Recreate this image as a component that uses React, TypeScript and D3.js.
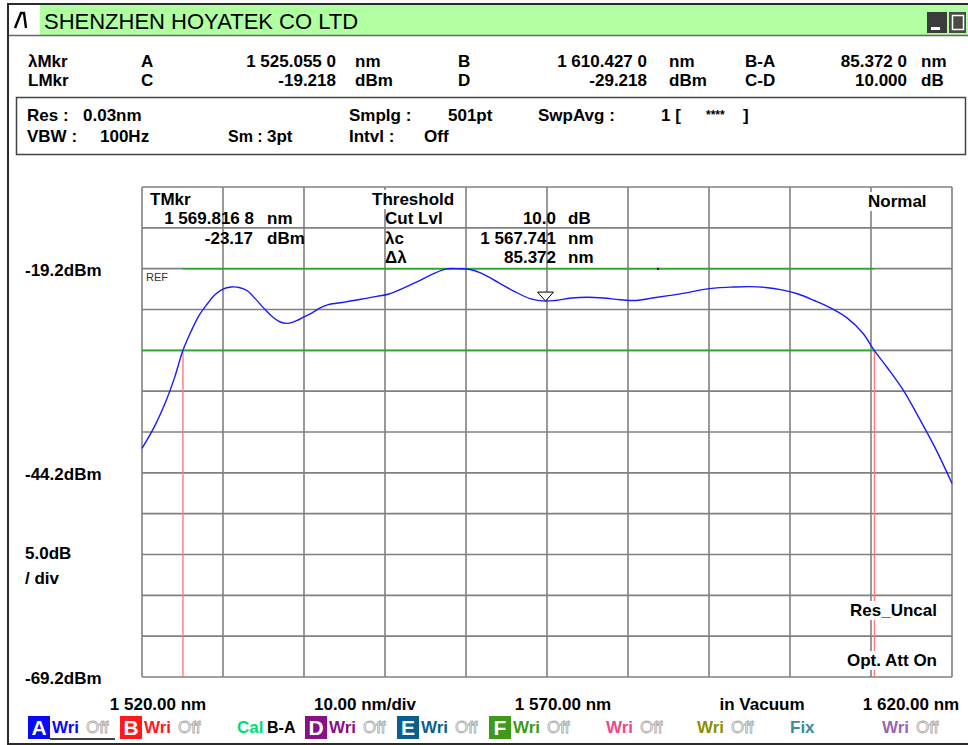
import * as d3 from "d3"
import { useEffect, useRef } from "react"

const W = 968
const H = 745

// measured spectrum trace
const traceNm = [
  1520, 1521.5, 1523, 1524, 1525.055, 1526, 1527, 1528, 1529, 1530, 1531, 1532,
  1533, 1534, 1535, 1536, 1537, 1538, 1539, 1540, 1541, 1542, 1543, 1545, 1547,
  1549, 1550.5, 1552, 1554, 1556, 1557.5, 1559, 1560.5, 1562, 1564, 1566, 1568,
  1569.8, 1571, 1573, 1575, 1577, 1579, 1581, 1583, 1585, 1587, 1589, 1591, 1593,
  1595, 1597, 1599, 1601, 1603, 1605, 1607, 1609, 1610.4, 1612, 1614, 1616, 1618,
  1620,
]
const traceDbm = [
  -41.2, -38.6, -35.3, -32.6, -29.2, -27.0, -25.0, -23.6, -22.4, -21.7, -21.45,
  -21.5, -21.9, -22.9, -24.0, -25.0, -25.7, -25.9, -25.6, -25.1, -24.6, -24.0,
  -23.6, -23.3, -22.95, -22.6, -22.3, -21.7, -20.8, -19.8, -19.25, -19.2, -19.3,
  -19.8, -20.9, -22.0, -22.9, -23.17, -23.1, -22.8, -22.7, -22.8, -23.0, -23.1,
  -22.8, -22.5, -22.2, -21.8, -21.55, -21.45, -21.4, -21.5, -21.8, -22.3, -23.1,
  -24.0, -25.2, -27.1, -29.2, -31.3, -34.1, -37.6, -41.3, -45.5,
]

const gridNm = [1520, 1530, 1540, 1550, 1560, 1570, 1580, 1590, 1600, 1610, 1620]
const gridDb = [-69.2, -64.2, -59.2, -54.2, -49.2, -44.2, -39.2, -34.2, -29.2, -24.2, -19.2, -14.2, -9.2]

const markerA = 1525.055
const markerB = 1610.427
const levelC = -19.218
const levelD = -29.218
const tMkrNm = 1569.8168
const tMkrDbm = -23.17
const peakDotNm = 1583.7

const headerRow1 = ["λMkr", "A", "1 525.055 0", "nm", "B", "1 610.427 0", "nm", "B-A", "85.372 0", "nm"]
const headerRow2 = ["LMkr", "C", "-19.218", "dBm", "D", "-29.218", "dBm", "C-D", "10.000", "dB"]
const headerX = [28, 141, 336, 355, 458, 647, 669, 745, 907, 921]
const headerAnchor = ["start", "start", "end", "start", "start", "end", "start", "start", "end", "start"]

const levelLabels = ["-19.2dBm", "-44.2dBm", "-69.2dBm"]
const levelValues = [-19.2, -44.2, -69.2]

const axisLabels = ["1 520.00 nm", "10.00 nm/div", "1 570.00 nm", "in Vacuum", "1 620.00 nm"]
const axisLabelX = [158, 365, 563, 762, 911]

const legendKeys = ["A", "B", "", "D", "E", "F", "", "", "", ""]
const legendLabels = ["Wri", "Wri", "Cal", "Wri", "Wri", "Wri", "Wri", "Wri", "Fix", "Wri"]
const legendColors = ["#0a0af5", "#ff1a1a", "#00e070", "#8a108a", "#0a5f90", "#3f9a18", "#ec4a88", "#8f8f00", "#3f8a9c", "#9a66b4"]
const legendOff = [true, true, false, true, true, true, true, true, false, true]
const legendX = [28, 120, 237, 305, 397, 489, 606, 697, 790, 882]

const FONT = "'Liberation Sans', Arial, Helvetica, sans-serif"

type Opt = { anchor?: string; size?: number; weight?: string; fill?: string; bg?: boolean; stroke?: string }

export default function App() {
  const svgRef = useRef<SVGSVGElement | null>(null)

  useEffect(() => {
    if (!svgRef.current) return
    const svg = d3.select(svgRef.current)
    svg.selectAll("*").remove()

    const put = (g: any, x: number, y: number, s: string, o: Opt = {}) => {
      const t = g
        .append("text")
        .attr("x", x)
        .attr("y", y)
        .attr("text-anchor", o.anchor || "start")
        .attr("font-size", o.size || 17)
        .attr("font-weight", o.weight || "bold")
        .attr("fill", o.fill || "#000")
        .text(s)
      if (o.stroke) t.attr("stroke", o.stroke).attr("stroke-width", 0.8)
      if (o.bg) {
        const b = (t.node() as SVGTextElement).getBBox()
        g.insert("rect", () => t.node())
          .attr("x", b.x - 2)
          .attr("y", b.y)
          .attr("width", b.width + 4)
          .attr("height", b.height)
          .attr("fill", "#fff")
      }
      return t
    }

    // window frame
    svg.append("rect").attr("x", 0).attr("y", 0).attr("width", W).attr("height", H).attr("fill", "#fff")
    svg
      .append("rect")
      .attr("x", 8)
      .attr("y", 4)
      .attr("width", 961)
      .attr("height", 740)
      .attr("fill", "none")
      .attr("stroke", "#2a2a2a")
      .attr("stroke-width", 2)

    // title bar
    svg.append("rect").attr("x", 9).attr("y", 5).attr("width", 959).attr("height", 30).attr("fill", "#b0ffa0")
    svg.append("rect").attr("x", 9).attr("y", 5).attr("width", 31).attr("height", 30).attr("fill", "#fff")
    svg.append("line").attr("x1", 9).attr("x2", 968).attr("y1", 35.5).attr("y2", 35.5).attr("stroke", "#666").attr("stroke-width", 1.5)
    svg
      .append("path")
      .attr("d", "M15,28 L21,13 L24,13 L26,28")
      .attr("fill", "none")
      .attr("stroke", "#000")
      .attr("stroke-width", 2.4)
    put(svg, 44, 29, "SHENZHEN HOYATEK CO LTD", { size: 22, weight: "normal" })

    // window buttons
    svg.append("rect").attr("x", 927).attr("y", 12).attr("width", 20).attr("height", 21).attr("fill", "#3c3c3c")
    svg.append("rect").attr("x", 931).attr("y", 27).attr("width", 9).attr("height", 3).attr("fill", "#fff")
    svg.append("rect").attr("x", 949).attr("y", 12).attr("width", 17).attr("height", 21).attr("fill", "#4a4a4a")
    svg
      .append("rect")
      .attr("x", 952.5)
      .attr("y", 15.5)
      .attr("width", 11)
      .attr("height", 14)
      .attr("fill", "none")
      .attr("stroke", "#fff")
      .attr("stroke-width", 1.5)

    // marker readouts
    headerRow1.forEach((s, i) => put(svg, headerX[i], 67, s, { anchor: headerAnchor[i] }))
    headerRow2.forEach((s, i) => put(svg, headerX[i], 86, s, { anchor: headerAnchor[i] }))

    // settings box
    svg
      .append("rect")
      .attr("x", 16.5)
      .attr("y", 97.5)
      .attr("width", 949)
      .attr("height", 57)
      .attr("fill", "none")
      .attr("stroke", "#444")
      .attr("stroke-width", 1.5)
    put(svg, 27, 121, "Res :")
    put(svg, 83, 121, "0.03nm")
    put(svg, 349, 121, "Smplg :")
    put(svg, 448, 121, "501pt")
    put(svg, 538, 121, "SwpAvg :")
    put(svg, 661, 121, "1 [")
    put(svg, 706, 119, "****", { size: 12 })
    put(svg, 743, 121, "]")
    put(svg, 27, 142, "VBW :")
    put(svg, 100, 142, "100Hz")
    put(svg, 228, 142, "Sm :", { size: 16 })
    put(svg, 267, 142, "3pt")
    put(svg, 349, 142, "Intvl :")
    put(svg, 424, 142, "Off")

    // scales
    const x = d3.scaleLinear().domain([1520, 1620]).range([142, 952])
    const y = d3.scaleLinear().domain([-69.2, -9.2]).range([677, 187])

    const grid = svg.append("g").attr("stroke", "#808080").attr("stroke-width", 1.6)
    grid
      .selectAll(".vx")
      .data(gridNm)
      .enter()
      .append("line")
      .attr("x1", (d) => x(d))
      .attr("x2", (d) => x(d))
      .attr("y1", y(-9.2))
      .attr("y2", y(-69.2))
    grid
      .selectAll(".hy")
      .data(gridDb)
      .enter()
      .append("line")
      .attr("x1", x(1520))
      .attr("x2", x(1620))
      .attr("y1", (d) => y(d))
      .attr("y2", (d) => y(d))

    // level lines (green)
    svg
      .append("line")
      .attr("x1", x(markerA))
      .attr("x2", x(markerB))
      .attr("y1", y(levelC))
      .attr("y2", y(levelC))
      .attr("stroke", "#2da82d")
      .attr("stroke-width", 1.6)
    svg
      .append("line")
      .attr("x1", x(1520))
      .attr("x2", x(markerB))
      .attr("y1", y(levelD))
      .attr("y2", y(levelD))
      .attr("stroke", "#2da82d")
      .attr("stroke-width", 1.6)

    // wavelength markers (red)
    ;[markerA, markerB].forEach((m) =>
      svg
        .append("line")
        .attr("x1", x(m))
        .attr("x2", x(m))
        .attr("y1", y(levelD))
        .attr("y2", y(-69.2))
        .attr("stroke", "#ff7a7a")
        .attr("stroke-width", 1.4),
    )

    // chart annotations
    put(svg, 150, 205, "TMkr")
    put(svg, 254, 224, "1 569.816 8", { anchor: "end" })
    put(svg, 267, 224, "nm")
    put(svg, 253, 244, "-23.17", { anchor: "end" })
    put(svg, 267, 244, "dBm")
    put(svg, 372, 205, "Threshold", { bg: true })
    put(svg, 385, 224, "Cut Lvl")
    put(svg, 556, 224, "10.0", { anchor: "end" })
    put(svg, 568, 224, "dB")
    put(svg, 385, 244, "λc")
    put(svg, 556, 244, "1 567.741", { anchor: "end" })
    put(svg, 568, 244, "nm")
    put(svg, 385, 263, "Δλ")
    put(svg, 556, 263, "85.372", { anchor: "end" })
    put(svg, 568, 263, "nm")
    put(svg, 868, 207, "Normal", { bg: true })
    put(svg, 937, 616, "Res_Uncal", { anchor: "end", bg: true })
    put(svg, 937, 666, "Opt. Att On", { anchor: "end", bg: true })
    put(svg, 146, 281, "REF", { size: 11, weight: "normal", fill: "#333" })

    // trace
    const line = d3
      .line<number>()
      .x((d) => x(d))
      .y((_, i) => y(traceDbm[i]))
      .curve(d3.curveCatmullRom.alpha(0.5))
    svg
      .append("path")
      .attr("d", line(traceNm))
      .attr("fill", "none")
      .attr("stroke", "#1a1aff")
      .attr("stroke-width", 1.4)

    // trace marker triangle
    const tx = x(tMkrNm)
    const ty = y(tMkrDbm)
    svg
      .append("path")
      .attr("d", `M${tx - 8},${ty - 9} L${tx + 8},${ty - 9} L${tx},${ty} Z`)
      .attr("fill", "#fff")
      .attr("stroke", "#000")
      .attr("stroke-width", 1)
    svg
      .append("rect")
      .attr("x", x(peakDotNm) - 1)
      .attr("y", y(levelC) - 1)
      .attr("width", 2)
      .attr("height", 2)
      .attr("fill", "#000")

    // level labels
    levelLabels.forEach((s, i) => put(svg, 25, y(levelValues[i]) + 7, s))
    put(svg, 25, 559, "5.0dB")
    put(svg, 25, 584, "/ div")

    // axis labels
    axisLabels.forEach((s, i) => put(svg, axisLabelX[i], 710, s, { anchor: "middle" }))

    // trace legend
    legendLabels.forEach((s, i) => {
      let lx = legendX[i]
      if (legendKeys[i]) {
        svg.append("rect").attr("x", lx).attr("y", 716).attr("width", 22).attr("height", 23).attr("fill", legendColors[i])
        put(svg, lx + 11, 735, legendKeys[i], { anchor: "middle", size: 21, fill: "#fff" })
        lx += 24
      }
      put(svg, lx, 733, s, { fill: legendColors[i] })
      if (s === "Cal") put(svg, lx + 30, 733, "B-A", { size: 16 })
      if (legendOff[i]) put(svg, lx + 34, 733, "Off", { weight: "normal", fill: "#fff", stroke: "#a8a8a8" })
    })
    svg.append("line").attr("x1", 50).attr("x2", 115).attr("y1", 739).attr("y2", 739).attr("stroke", "#000").attr("stroke-width", 1.5)
  }, [])

  return (
    <svg
      ref={svgRef}
      width={W}
      height={H}
      style={{ position: "absolute", left: 0, top: 0, fontFamily: FONT }}
    />
  )
}
